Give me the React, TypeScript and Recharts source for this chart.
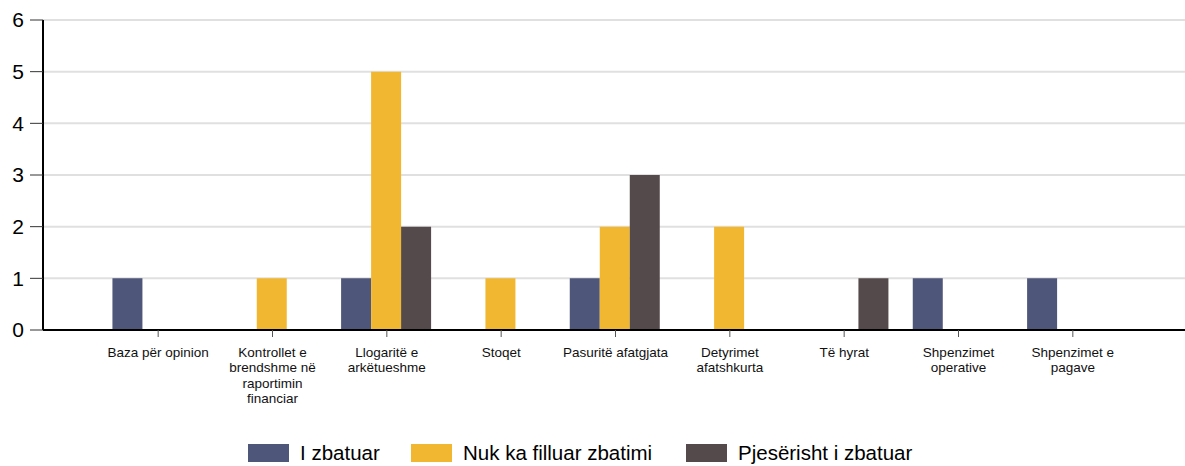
import React from 'react';
import { BarChart, Bar, XAxis, YAxis, CartesianGrid, Legend } from 'recharts';

const categories = [
  'Baza për opinion',
  'Kontrollet e\nbrendshme në\nraportimin\nfinanciar',
  'Llogaritë e\narkëtueshme',
  'Stoqet',
  'Pasuritë afatgjata',
  'Detyrimet\nafatshkurta',
  'Të hyrat',
  'Shpenzimet\noperative',
  'Shpenzimet e\npagave',
];

const zbatuar = [1, 0, 1, 0, 1, 0, 0, 1, 1];
const paFilluar = [0, 1, 5, 1, 2, 2, 0, 0, 0];
const pjeserisht = [0, 0, 2, 0, 3, 0, 1, 0, 0];

const yTicks = [0, 1, 2, 3, 4, 5, 6];

const series = [
  { key: 'zbatuar', name: 'I zbatuar', color: '#4e5679', labelW: 79 },
  { key: 'paFilluar', name: 'Nuk ka filluar zbatimi', color: '#f2b731', labelW: 191 },
  { key: 'pjeserisht', name: 'Pjesërisht i zbatuar', color: '#544a4b', labelW: 208 },
];

const data = categories.map((name, i) => ({
  name,
  zbatuar: zbatuar[i],
  paFilluar: paFilluar[i],
  pjeserisht: pjeserisht[i],
}));

const FONT = '"Liberation Sans", Arial, sans-serif';

const CategoryTick = (props: any) => {
  const { x, y, payload } = props;
  const lines: string[] = String(payload.value).split('\n');
  return (
    <g transform={`translate(${x},${y})`}>
      <text textAnchor="middle" fontSize={13.5} fontFamily={FONT} fill="#111">
        {lines.map((line, i) => (
          <tspan key={i} x={0} dy={i === 0 ? 18 : 15.3}>
            {line}
          </tspan>
        ))}
      </text>
    </g>
  );
};

const LegendBox = () => (
  <div
    style={{
      height: 30,
      paddingTop: 4,
      boxSizing: 'border-box',
      display: 'flex',
      justifyContent: 'center',
      alignItems: 'center',
      paddingLeft: 9,
      fontFamily: FONT,
      fontSize: 20.5,
      color: '#000',
    }}
  >
    {series.map((s, i) => (
      <div key={s.key} style={{ display: 'flex', alignItems: 'center', marginLeft: i === 0 ? 0 : 32 }}>
        <span style={{ display: 'inline-block', width: 41, height: 18, background: s.color, marginRight: 11 }} />
        <span style={{ display: 'inline-block', width: s.labelW, whiteSpace: 'nowrap' }}>{s.name}</span>
      </div>
    ))}
  </div>
);

export default function App() {
  return (
    <div style={{ position: 'absolute', left: 0, top: 0, background: '#fff' }}>
      <BarChart
        width={1185}
        height={466}
        data={data}
        margin={{ top: 20, right: 0, bottom: 0, left: 0 }}
        barCategoryGap="10%"
        barGap={0}
      >
        <CartesianGrid vertical={false} stroke="#e0e0e0" strokeWidth={2} />
        <XAxis
          dataKey="name"
          height={106}
          padding={{ left: 58, right: 55 }}
          axisLine={{ stroke: '#000', strokeWidth: 2 }}
          tickLine={{ stroke: '#555' }}
          tickSize={7}
          tickMargin={2}
          interval={0}
          tick={<CategoryTick />}
        />
        <YAxis
          domain={[0, 6]}
          ticks={yTicks}
          width={43}
          axisLine={{ stroke: '#000', strokeWidth: 2 }}
          tickLine={{ stroke: '#333' }}
          tickSize={13}
          tickMargin={6}
          tick={{ fontSize: 21, fontFamily: FONT, fill: '#000' }}
        />
        <Legend verticalAlign="bottom" content={<LegendBox />} />
        {series.map((s) => (
          <Bar key={s.key} dataKey={s.key} name={s.name} fill={s.color} isAnimationActive={false} />
        ))}
      </BarChart>
    </div>
  );
}
